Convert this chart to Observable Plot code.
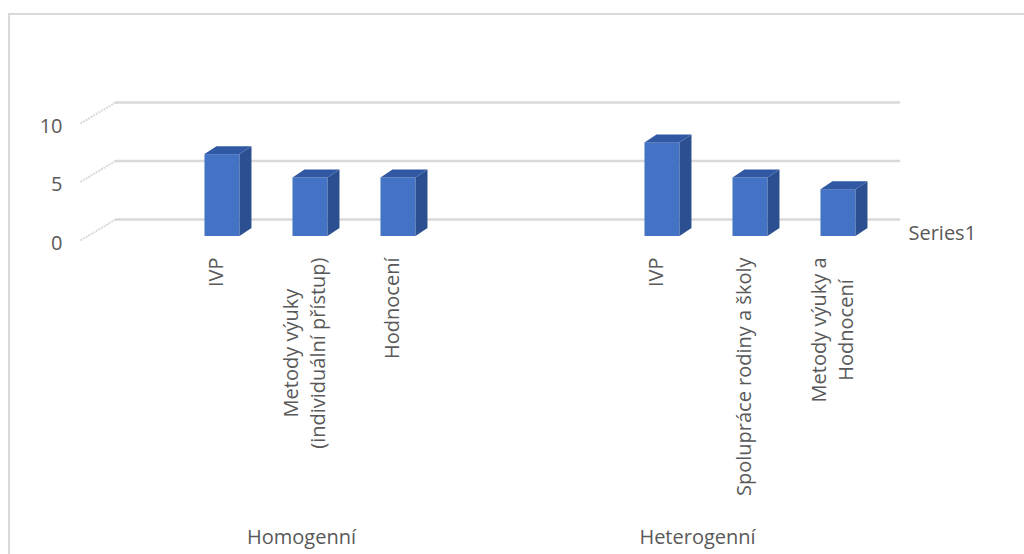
<!DOCTYPE html>
<html>
<head>
<meta charset="utf-8">
<script src="https://cdn.jsdelivr.net/npm/d3@7"></script>
<script src="https://cdn.jsdelivr.net/npm/@observablehq/plot@0.6"></script>
<style>
  html, body { margin: 0; padding: 0; background: #ffffff; overflow: hidden; }
  #frame { position: absolute; left: 8px; top: 13px; width: 1200px; height: 800px; border: 2px solid #D9D9D9; box-sizing: border-box; }
  #chart { position: absolute; left: 0; top: 0; }
</style>
</head>
<body>
<div id="frame"></div>
<div id="chart"></div>
<script>
// ---- data ----
const groups = ["Homogenní", "Heterogenní"];
const homogenniCategories = ["IVP", "Metody výuky\n(individuální přístup)", "Hodnocení"];
const homogenniValues = [7, 5, 5];
const heterogenniCategories = ["IVP", "Spolupráce rodiny a školy", "Metody výuky a\nHodnocení"];
const heterogenniValues = [8, 5, 4];
const yTicks = [0, 5, 10];
const seriesName = "Series1";

// ---- layout (slots on a linear x scale) ----
const groupStart = [0, 5];          // first slot of each group
const groupSpan = [[0, 2], [4, 7]]; // slots covered by each group label
const font = "'Open Sans', sans-serif";
const textColor = "#595959";
const FRONT = "#4472C4", SIDE = "#2C4F91", TOP = "#3159A3";
const halfW = 0.199, depthX = 0.136, depthY = 0.68;
const wallOffset = 1.453;            // back wall relative to bar fronts (y units)
const gridX1 = -1.216, gridX2 = 7.705, diagX0 = -1.614, diagFront = -0.342;

const bars = [];
[[homogenniCategories, homogenniValues], [heterogenniCategories, heterogenniValues]].forEach(([cats, vals], g) => {
  cats.forEach((c, i) => bars.push({group: groups[g], category: c, value: vals[i], slot: groupStart[g] + i, key: g + "-" + i}));
});

const sides = bars.flatMap(b => [
  {key: b.key, x: b.slot + halfW, y1: 0, y2: b.value},
  {key: b.key, x: b.slot + halfW + depthX, y1: depthY, y2: b.value + depthY}
]);
const tops = bars.flatMap(b => [
  {key: b.key, y: b.value, x1: b.slot - halfW, x2: b.slot + halfW},
  {key: b.key, y: b.value + depthY, x1: b.slot - halfW + depthX, x2: b.slot + halfW + depthX}
]);

// measure label widths to align multi-line blocks at the top
const ctx = document.createElement("canvas").getContext("2d");
ctx.font = "20px 'Open Sans'";
const maxWidth = s => d3.max(s.split("\n"), l => ctx.measureText(l).width);

const labelMarks = bars.map(b => Plot.text([b], {
  x: "slot", y: 0, text: "category", rotate: -90,
  textAnchor: "middle", lineAnchor: "middle", lineHeight: 1.36,
  dx: -8, dy: 21 + maxWidth(b.category) / 2,
  fill: textColor, fontSize: 20
}));

const groupLabels = groups.map((g, i) => ({group: g, x: (groupSpan[i][0] + groupSpan[i][1]) / 2}));

const chart = Plot.plot({
  width: 1024,
  height: 554,
  margin: 0,
  x: {type: "linear", domain: [0, 7], range: [222, 838], axis: null},
  y: {type: "linear", domain: [0, 10], range: [236, 119], axis: null},
  style: {background: "transparent", fontFamily: font, color: textColor},
  marks: [
    Plot.ruleY(yTicks, {y: d => d + wallOffset, x1: gridX1, x2: gridX2, stroke: "#D9D9D9", strokeWidth: 2.5}),
    Plot.link(yTicks, {x1: diagX0, y1: d => d + diagFront, x2: gridX1, y2: d => d + wallOffset, stroke: "#D9D9D9", strokeWidth: 2, strokeDasharray: "2,1"}),
    Plot.text(yTicks, {x: -1.818, y: d => d, text: d => String(d), textAnchor: "end", dy: 7, fill: textColor, fontSize: 20}),
    Plot.rect(bars, {x1: d => d.slot - halfW, x2: d => d.slot + halfW, y1: 0, y2: "value", fill: FRONT}),
    Plot.areaY(sides, {x: "x", y1: "y1", y2: "y2", z: "key", fill: SIDE, curve: "linear"}),
    Plot.areaX(tops, {y: "y", x1: "x1", x2: "x2", z: "key", fill: TOP, curve: "linear"}),
    ...labelMarks,
    Plot.text(groupLabels, {x: "x", y: 0, text: "group", dx: -9, dy: 301, fill: textColor, fontSize: 20}),
    Plot.text([seriesName], {x: 7.795, y: 0, text: d => d, textAnchor: "start", dy: -3, fill: textColor, fontSize: 20})
  ]
});
document.getElementById("chart").appendChild(chart);
</script>
</body>
</html>
